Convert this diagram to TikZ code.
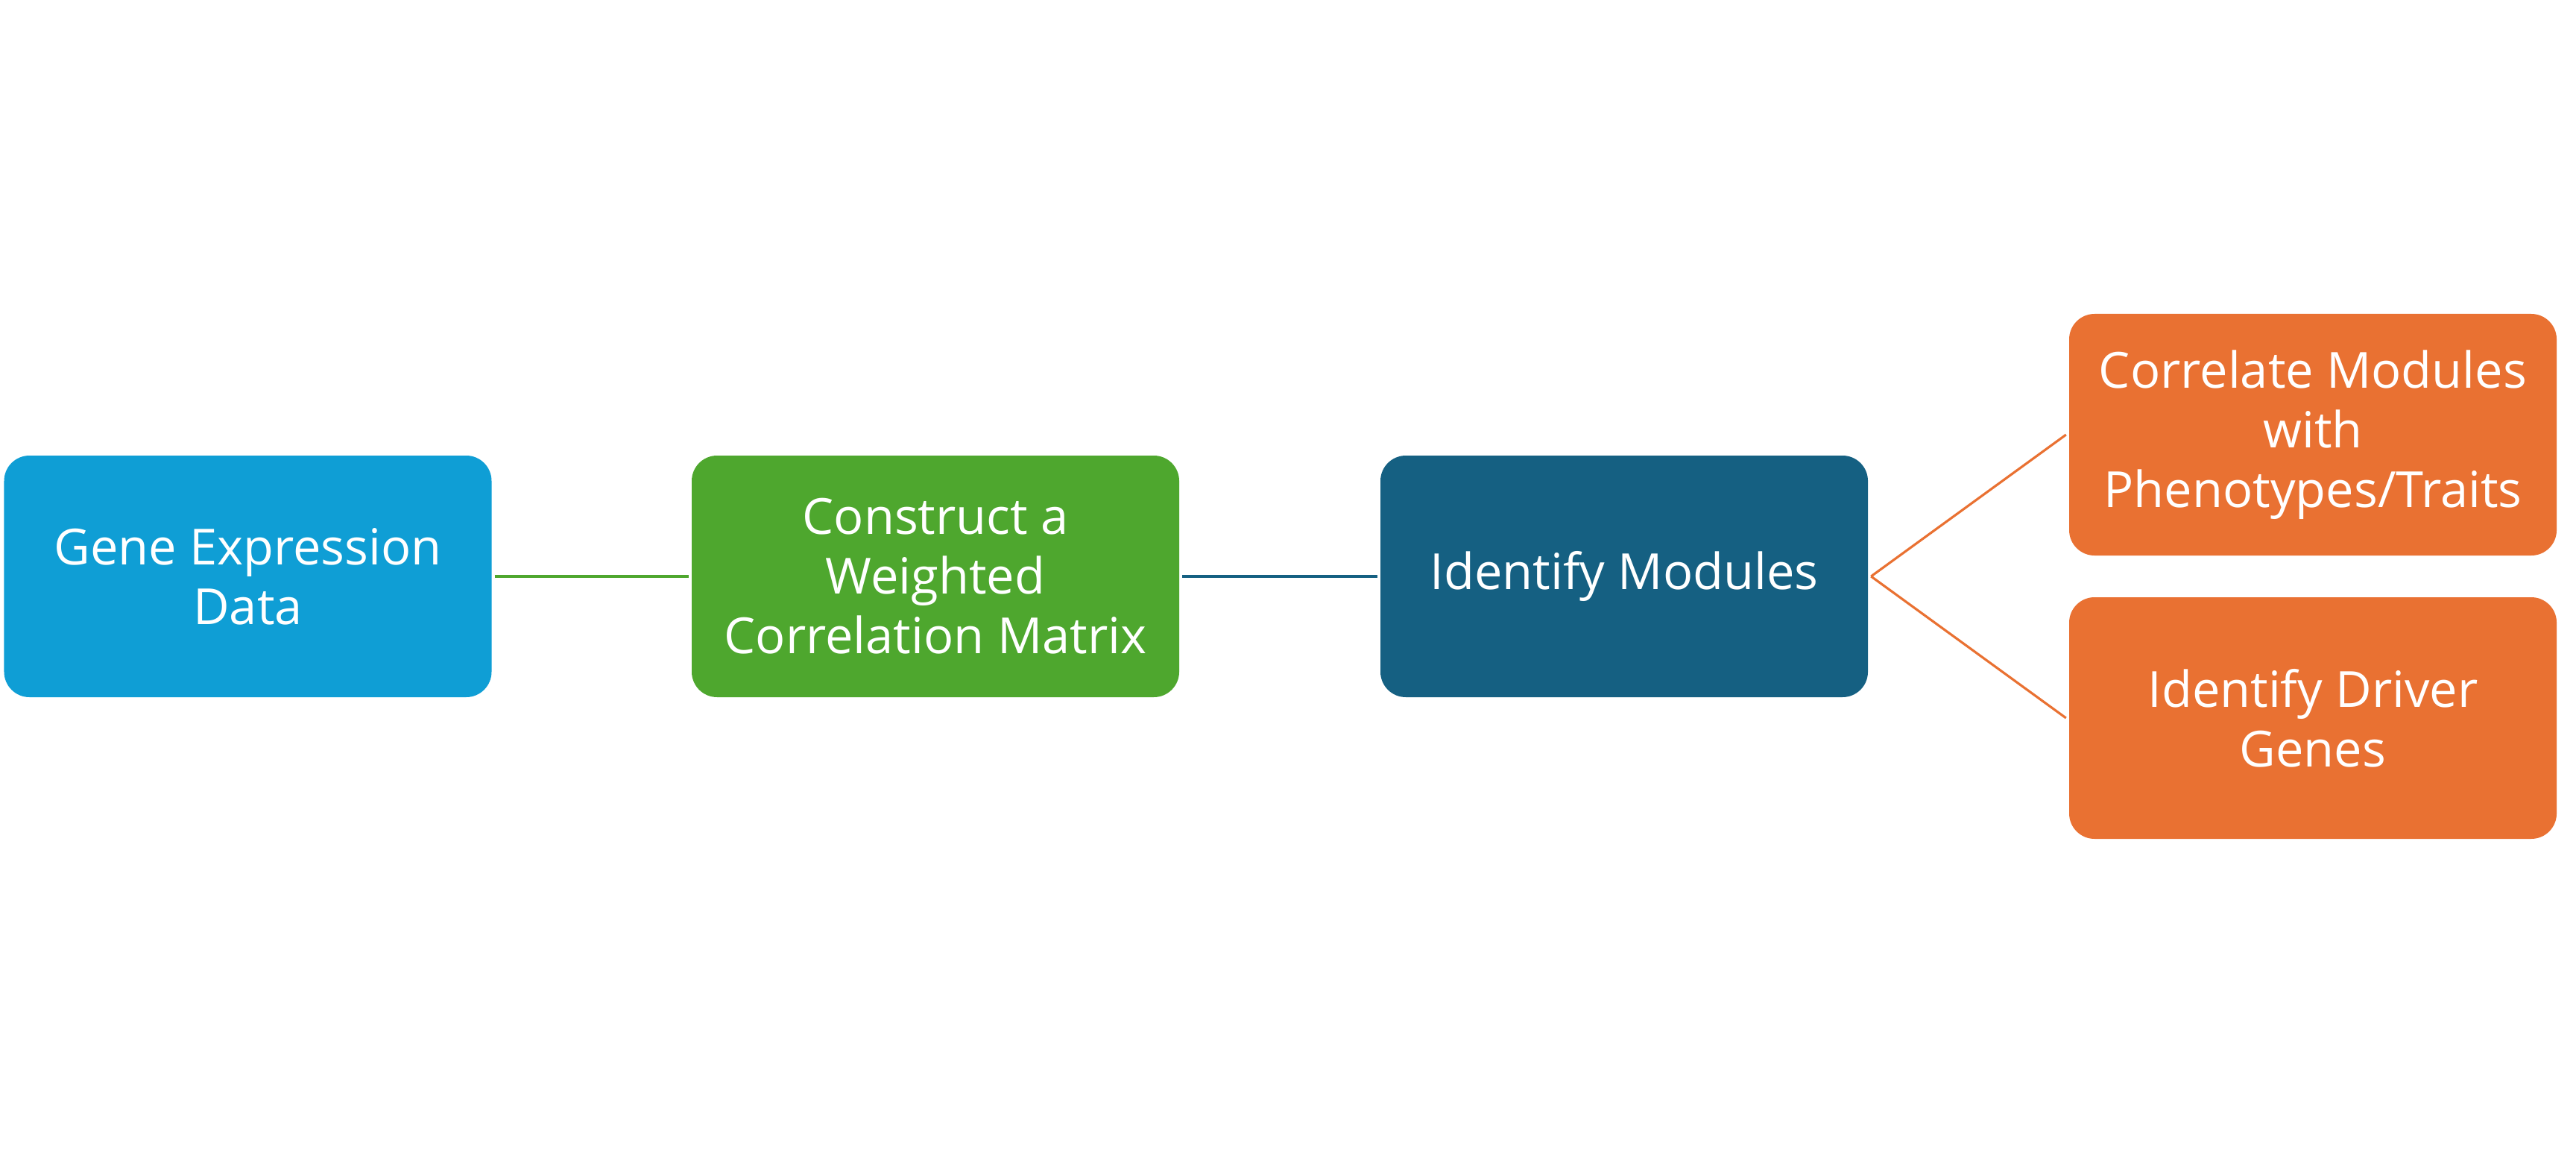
\documentclass[tikz,border=0pt]{standalone}
\usepackage{fontspec}
\setmainfont{Open Sans}
\usepackage{tikz}
\usetikzlibrary{ positioning, % For easy node-relative placements
               }
\definecolor{skyblue}{HTML}{0F9ED5}
\definecolor{leafgreen}{HTML}{4EA72E}
\definecolor{deepblue}{HTML}{156082}
\definecolor{tangerine}{HTML}{E97132}
\tikzstyle{stage} = [rectangle, rounded corners=0.34cm, minimum width=6.54cm, minimum height=3.24cm, inner sep=0pt, outer sep=1.2pt, text=white, align=center, font=\fontsize{19}{22.8}\selectfont]
\tikzstyle{link} = [line width=1.3pt]
\tikzstyle{branch} = [line width=0.9pt, tangerine]

\begin{document}
\begin{tikzpicture}
  \useasboundingbox (0, 0) rectangle (34.56, -15.45);
  \node (expr) [stage, fill=skyblue] at (3.325, -7.73) {Gene Expression\\Data};
  \node (wgcm) [stage, fill=leafgreen] at (12.55, -7.73) {Construct a\\Weighted\\Correlation Matrix};
  \node (mods) [stage, fill=deepblue] at (21.79, -7.73) {Identify Modules};
  \node (trait) [stage, fill=tangerine] at (31.03, -5.83) {Correlate Modules\\with\\Phenotypes/Traits};
  \node (driver) [stage, fill=tangerine] at (31.03, -9.63) {Identify Driver\\Genes};
  \draw [link, leafgreen] (expr) -- (wgcm);
  \draw [link, deepblue] (wgcm) -- (mods);
  \draw [branch] (mods.east) -- (trait.west);
  \draw [branch] (mods.east) -- (driver.west);
\end{tikzpicture}
\end{document}
